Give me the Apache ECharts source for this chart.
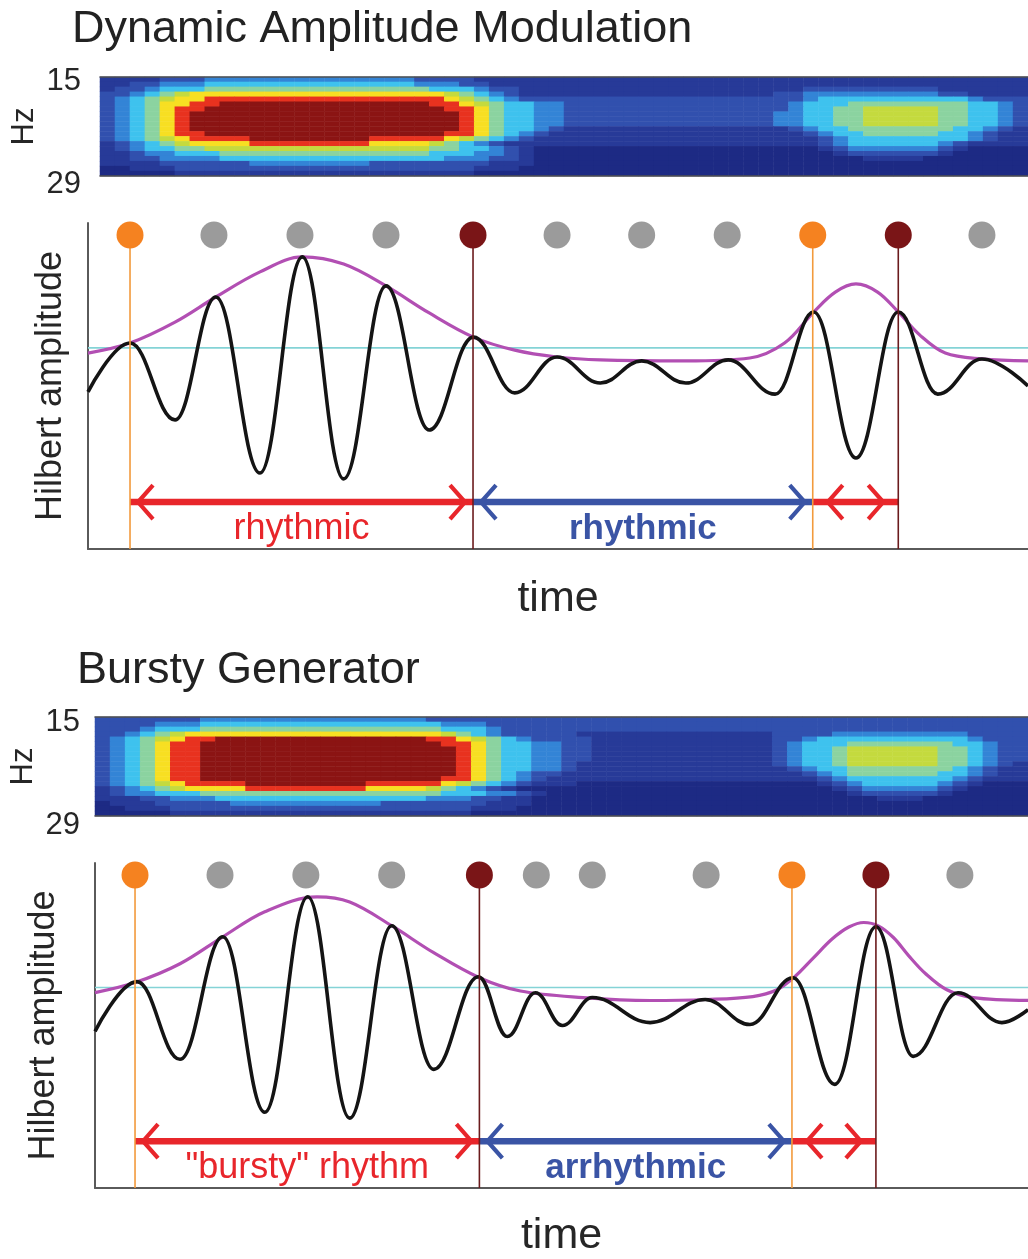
<!DOCTYPE html>
<html>
<head>
<meta charset="utf-8">
<script src="https://cdn.jsdelivr.net/npm/echarts@6/dist/echarts.min.js"></script>
<style>
  html, body { margin: 0; padding: 0; background: #ffffff; }
  #chart { width: 1028px; height: 1259px; }
</style>
</head>
<body>
<div id="chart"></div>
<script>
// ---------------------------------------------------------------
// Data
// ---------------------------------------------------------------
const panelTitles = ['Dynamic Amplitude Modulation', 'Bursty Generator'];
const freqTicks = [15, 29];

// Spectrogram power levels (0 = low ... 9 = saturated), one string per
// frequency row from 15 Hz (top) to 29 Hz (bottom), one digit per time bin.
const topSpectrogram = [
  '11112223333333333333322221111111111111111111111111111111111111',
  '11223334444444444444433322111111111111111111111111111111111111',
  '12234445555555555555554443221111111111111111111222222222111111',
  '22345677777777777777777654321111111111111111122333333333221111',
  '23456778888888888888888765432222222222222222222344444444443222',
  '23457788999999999999998876544332222222222222223444555555554432',
  '23457889999999999999999887544332222222222222223445566666554432',
  '23457899999999999999999987544332222222222222233445566666554432',
  '23457899999999999999999987544332222222222222233445566666554432',
  '23457899999999999999999987544332222222222222233445566666554432',
  '23457899999999999999999987544321111111111111112344555555544321',
  '23457889999999999999999887543211111111111111111234455555443211',
  '23456788889999999988888765432111111111111111111123444444443211',
  '12345677778888888877776543211111111111111111111123444444321111',
  '12344556666666666666665544321000000000000000000012333333210000',
  '11233444555555555555554443321000000000000000000001222222100000',
  '11223333444444444444444333221000000000000000000000011110000000',
  '11112222223333333322222222111000000000000000000000000000000000',
  '00111222222222222222222221110000000000000000000000000000000000',
  '00000111111111111111111110000000000000000000000000000000000000'
];
const bottomSpectrogram = [
  '22222223333333333333332222222222222222222222222222222222222222',
  '22223334444444444444444333222222222222222222222222222222222222',
  '22234445555555555555555444322222222222222222222222222222222222',
  '22345677777777777777777654322222111111111111122223333333332222',
  '23456788999999999999998876543222211111111111122344444444443222',
  '23457889999999999999999887544332211111111111123444555555544322',
  '23457889999999999999999987544332211111111111123445666666554322',
  '23457889999999999999999987544332211111111111123445666666554322',
  '23457889999999999999999987544332211111111111123445666666554322',
  '23457889999999999999999987544332111111111111123445666666554321',
  '23457889999999999999999987544332111111111111112344555555543211',
  '23457889999999999999999987543221111111111111111234555555443211',
  '23457889999999999999999887543211111111111111111123444444432111',
  '23456788889999999988888765432111000000000000000012344444321000',
  '12345677778888888877776543210000000000000000000001233333210000',
  '12334445555555555555555444332100000000000000000000122222100000',
  '11122333444444444444443332211000000000000000000000001110000000',
  '01112222233333333332222222111000000000000000000000000000000000',
  '00111222222222222222222221110000000000000000000000000000000000',
  '00000111111111111111111110000000000000000000000000000000000000'
];

// Band-limited signal (extrema, time in a.u. 0-100) and its Hilbert envelope
const topSignalTime = [0, 4.47, 9.26, 13.6, 18.3, 22.8, 27.2, 31.7, 36.3, 41.0, 45.4, 49.9, 54.5, 58.9, 63.6, 68.1, 73.1, 77.2, 81.7, 86.2, 90.4, 95.1, 100];
const topSignalAmp  = [48.2, 63.2, 39.6, 77.3, 23.3, 89.6, 21.5, 80.7, 36.5, 65.0, 47.9, 58.9, 50.9, 57.7, 50.9, 58.0, 47.5, 72.7, 27.9, 72.7, 47.5, 58.3, 50.0];
const topEnvelopeTime = [0, 4.47, 9.26, 13.6, 18.3, 22.8, 27.2, 31.7, 36.3, 41.0, 45.4, 49.9, 54.5, 63.6, 70.4, 74.1, 77.2, 79.5, 81.7, 84.0, 86.2, 88.5, 91.2, 95.1, 100];
const topEnvelopeAmp  = [60.1, 63.2, 69.6, 77.3, 85.0, 89.6, 87.4, 80.7, 72.4, 65.0, 61.0, 58.9, 58.0, 57.7, 58.6, 63.2, 72.7, 78.8, 81.3, 78.8, 72.7, 65.6, 60.1, 58.3, 57.7];
const topThreshold = 61.7;
const topCycleTime = [4.47, 13.4, 22.55, 31.7, 40.96, 49.9, 58.9, 68.0, 77.1, 86.2, 95.1];
const topCycleKind = ['onset', 'cycle', 'cycle', 'cycle', 'offset', 'cycle', 'cycle', 'cycle', 'onset', 'offset', 'cycle'];
const topSpanStart = [4.47, 40.96, 77.1];
const topSpanEnd   = [40.96, 77.1, 86.2];
const topSpanKind  = ['burst', 'none', 'burst'];
const topSpanLabel = ['rhythmic', 'rhythmic', ''];

const bottomSignalTime = [0, 4.50, 9.11, 13.7, 18.2, 22.8, 27.3, 31.8, 36.3, 41.1, 44.2, 47.2, 50.1, 53.3, 59.5, 65.4, 70.2, 74.8, 79.3, 83.7, 87.7, 92.5, 97.2, 100];
const bottomSignalAmp  = [48.2, 63.5, 39.6, 77.3, 23.3, 89.6, 21.5, 80.7, 36.5, 65.0, 46.6, 60.1, 50.0, 58.6, 50.9, 58.0, 50.3, 64.7, 31.9, 80.4, 40.5, 60.1, 50.9, 54.9];
const bottomEnvelopeTime = [0, 4.29, 9.11, 13.7, 18.2, 23.8, 27.3, 31.8, 36.3, 41.2, 45.6, 52.3, 59.5, 65.6, 70.5, 73.1, 75.0, 77.0, 79.0, 80.8, 82.4, 84.0, 85.6, 87.2, 89.0, 91.3, 94.1, 100];
const bottomEnvelopeAmp  = [60.1, 63.2, 69.0, 77.3, 85.0, 89.6, 88.0, 80.7, 72.4, 64.7, 60.6, 58.6, 57.7, 58.0, 58.9, 61.0, 65.0, 70.8, 76.6, 80.3, 81.7, 80.6, 77.0, 71.5, 66.0, 61.0, 58.6, 57.7];
const bottomThreshold = 61.7;
const bottomCycleTime = [4.29, 13.4, 22.6, 31.8, 41.2, 47.3, 53.3, 65.5, 74.7, 83.7, 92.7];
const bottomCycleKind = ['onset', 'cycle', 'cycle', 'cycle', 'offset', 'cycle', 'cycle', 'cycle', 'onset', 'offset', 'cycle'];
const bottomSpanStart = [4.29, 41.2, 74.7];
const bottomSpanEnd   = [41.2, 74.7, 83.7];
const bottomSpanKind  = ['burst', 'none', 'burst'];
const bottomSpanLabel = ['"bursty" rhythm', 'arrhythmic', ''];

const cycleMarkerLevel = 96.3;
const spanLevel = 14.4;

// ---------------------------------------------------------------
// Styling
// ---------------------------------------------------------------
const FONT = "'Liberation Sans', Arial, Helvetica, sans-serif";
const TEXT = '#262626';
const AXIS = '#5a5a5a';
const JET = ['#1d2a84', '#273a98', '#3150ae', '#3384d6', '#3ec2ee',
             '#8bd3a0', '#c4da3e', '#f7df22', '#e8321f', '#8b1413'];
const MARKER_COLOR = { onset: '#f58220', offset: '#7a1517', cycle: '#9b9b9b' };
const STEM_COLOR = { onset: '#f29a3c', offset: '#6b1b1d' };
const SPAN_COLOR = { burst: '#e8262b', none: '#3a54a5' };

const layouts = [
  { titleLeft: 72, titleTop: 7,
    heat: { left: 100, top: 77, height: 99 }, hz: { top: 81, height: 103, margin: 19 }, hzNameGap: 60,
    plot: { left: 88, top: 223, height: 326 }, ampNameGap: 19, timeNameGap: 29 },
  { titleLeft: 77, titleTop: 648,
    heat: { left: 93, top: 717, height: 99 }, hz: { top: 722, height: 103, margin: 13 }, hzNameGap: 56,
    plot: { left: 95, top: 863, height: 326 }, ampNameGap: 33, timeNameGap: 27 }
];

const panels = [
  { title: panelTitles[0], spec: topSpectrogram,
    sigT: topSignalTime, sigA: topSignalAmp, envT: topEnvelopeTime, envA: topEnvelopeAmp,
    thr: topThreshold, cycT: topCycleTime, cycK: topCycleKind,
    spS: topSpanStart, spE: topSpanEnd, spK: topSpanKind, spL: topSpanLabel },
  { title: panelTitles[1], spec: bottomSpectrogram,
    sigT: bottomSignalTime, sigA: bottomSignalAmp, envT: bottomEnvelopeTime, envA: bottomEnvelopeAmp,
    thr: bottomThreshold, cycT: bottomCycleTime, cycK: bottomCycleKind,
    spS: bottomSpanStart, spE: bottomSpanEnd, spK: bottomSpanKind, spL: bottomSpanLabel }
];

const option = {
  animation: false,
  backgroundColor: '#ffffff',
  title: [], grid: [], xAxis: [], yAxis: [], series: [],
  visualMap: { show: false, type: 'continuous', min: 0, max: 9, seriesIndex: [],
               inRange: { color: JET } }
};

const zip = (a, b) => a.map((v, i) => [v, b[i]]);
const hidden = { axisLine: { show: false }, axisTick: { show: false },
                 axisLabel: { show: false }, splitLine: { show: false } };

function addPanel(p, L) {
  const g = option.grid.length;
  const xi = option.xAxis.length;
  const yi = option.yAxis.length;

  option.title.push({
    text: p.title, left: L.titleLeft, top: L.titleTop, padding: 0,
    textStyle: { fontFamily: FONT, fontSize: 45, fontWeight: 'normal', color: '#222' }
  });

  option.grid.push({ left: L.heat.left, top: L.heat.top, height: L.heat.height, right: -1 });
  option.grid.push({ left: L.heat.left, top: L.hz.top, height: L.hz.height, right: -1 });
  option.grid.push({ left: L.plot.left, top: L.plot.top, height: L.plot.height, right: 0 });

  // spectrogram axes
  const nCols = p.spec[0].length;
  const cols = Array.from({ length: nCols }, (_, i) => i);
  const rows = p.spec.map((_, i) => i);
  const frame = { show: true, lineStyle: { color: '#505050', width: 1.5 } };
  option.xAxis.push(Object.assign({}, hidden, { type: 'category', gridIndex: g, data: cols,
    position: 'bottom', axisLine: frame, z: 10 }));
  option.xAxis.push(Object.assign({}, hidden, { type: 'category', gridIndex: g, data: cols,
    position: 'top', axisLine: frame, z: 10 }));
  option.yAxis.push(Object.assign({}, hidden, { type: 'category', gridIndex: g, data: rows,
    inverse: true, name: 'Hz', nameLocation: 'middle', nameRotate: 90, nameGap: L.hzNameGap,
    nameTextStyle: { fontFamily: FONT, fontSize: 31, color: TEXT } }));

  // frequency tick labels
  option.xAxis.push(Object.assign({}, hidden, { type: 'value', gridIndex: g + 1, min: 0, max: 1, show: false }));
  option.yAxis.push({ type: 'value', gridIndex: g + 1, min: freqTicks[0], max: freqTicks[1], inverse: true,
    axisLine: { show: false }, axisTick: { show: false }, splitLine: { show: false },
    axisLabel: { customValues: freqTicks, margin: L.hz.margin, fontFamily: FONT, fontSize: 31, color: TEXT } });

  // amplitude plot axes
  const axisLine = { show: true, onZero: false, lineStyle: { color: AXIS, width: 2 } };
  option.xAxis.push(Object.assign({}, hidden, { type: 'value', gridIndex: g + 2, min: 0, max: 100,
    axisLine: axisLine, name: 'time', nameLocation: 'middle', nameGap: L.timeNameGap,
    nameTextStyle: { fontFamily: FONT, fontSize: 43, color: TEXT } }));
  option.yAxis.push(Object.assign({}, hidden, { type: 'value', gridIndex: g + 2, min: 0, max: 100,
    axisLine: axisLine, name: 'Hilbert amplitude', nameLocation: 'middle', nameRotate: 90,
    nameGap: L.ampNameGap, nameTextStyle: { fontFamily: FONT, fontSize: 36, color: TEXT } }));

  // spectrogram
  const cells = [];
  p.spec.forEach((row, r) => {
    for (let c = 0; c < row.length; c++) cells.push([c, r, Number(row[c])]);
  });
  option.visualMap.seriesIndex.push(option.series.length);
  option.series.push({ type: 'heatmap', xAxisIndex: xi, yAxisIndex: yi, data: cells,
    progressive: 0, emphasis: { disabled: true }, z: 2 });

  const px = xi + 3, py = yi + 2;

  // threshold
  option.series.push({ type: 'line', xAxisIndex: px, yAxisIndex: py, data: [[0, p.thr], [100, p.thr]],
    symbol: 'none', lineStyle: { color: '#84d3d6', width: 1.6 }, z: 2 });
  // envelope
  option.series.push({ type: 'line', xAxisIndex: px, yAxisIndex: py, data: zip(p.envT, p.envA),
    symbol: 'none', smooth: 0.35, lineStyle: { color: '#b24fb3', width: 3.2 }, z: 3 });
  // signal
  option.series.push({ type: 'line', xAxisIndex: px, yAxisIndex: py, data: zip(p.sigT, p.sigA),
    symbol: 'none', smooth: 0.4, smoothMonotone: 'x', lineStyle: { color: '#141414', width: 3.6 }, z: 4 });

  // burst / non-burst spans with double-headed arrows
  const spanData = p.spS.map((s, i) => [s, p.spE[i], spanLevel]);
  option.series.push({
    type: 'custom', xAxisIndex: px, yAxisIndex: py, data: spanData, z: 5,
    encode: { x: [0, 1], y: 2 },
    renderItem: function (params, api) {
      const i = params.dataIndex;
      const a = api.coord([api.value(0), api.value(2)]);
      const b = api.coord([api.value(1), api.value(2)]);
      const kind = p.spK[i];
      const color = SPAN_COLOR[kind];
      const y = a[1];
      const inset = (b[0] - a[0]) > 150 ? 8 : 15;
      const aw = 15, ah = 17;
      const lt = a[0] + inset, rt = b[0] - inset;
      const children = [
        { type: 'line', shape: { x1: a[0], y1: y, x2: b[0], y2: y },
          style: { stroke: color, lineWidth: 6.5 } },
        { type: 'polyline', shape: { points: [[lt + aw, y - ah], [lt, y], [lt + aw, y + ah]] },
          style: { stroke: color, lineWidth: 4.2, fill: null } },
        { type: 'polyline', shape: { points: [[rt - aw, y - ah], [rt, y], [rt - aw, y + ah]] },
          style: { stroke: color, lineWidth: 4.2, fill: null } }
      ];
      if (p.spL[i]) {
        children.push({ type: 'text', x: (a[0] + b[0]) / 2, y: y + 27,
          style: { text: p.spL[i], fill: color, fontFamily: FONT, fontSize: kind === 'burst' ? 36 : 35,
                   fontWeight: kind === 'burst' ? 'normal' : 'bold', align: 'center', verticalAlign: 'middle' } });
      }
      return { type: 'group', children: children };
    }
  });

  // onset / offset stems
  const stemData = [];
  p.cycT.forEach((t, i) => { if (p.cycK[i] !== 'cycle') stemData.push([t, cycleMarkerLevel, i]); });
  option.series.push({
    type: 'custom', xAxisIndex: px, yAxisIndex: py, data: stemData, z: 6,
    encode: { x: 0, y: 1 },
    renderItem: function (params, api) {
      const top = api.coord([api.value(0), api.value(1)]);
      const bot = api.coord([api.value(0), 0]);
      const kind = p.cycK[api.value(2)];
      return { type: 'line', shape: { x1: top[0], y1: top[1], x2: bot[0], y2: bot[1] },
               style: { stroke: STEM_COLOR[kind], lineWidth: 1.6 } };
    }
  });

  // cycle markers
  option.series.push({
    type: 'scatter', xAxisIndex: px, yAxisIndex: py, symbolSize: 27, clip: false, z: 7,
    data: p.cycT.map((t, i) => ({ value: [t, cycleMarkerLevel],
                                   itemStyle: { color: MARKER_COLOR[p.cycK[i]], opacity: 1 } }))
  });
}

panels.forEach((p, i) => addPanel(p, layouts[i]));

const chart = echarts.init(document.getElementById('chart'), null, { renderer: 'canvas', width: 1028, height: 1259 });
chart.setOption(option);
</script>
</body>
</html>
